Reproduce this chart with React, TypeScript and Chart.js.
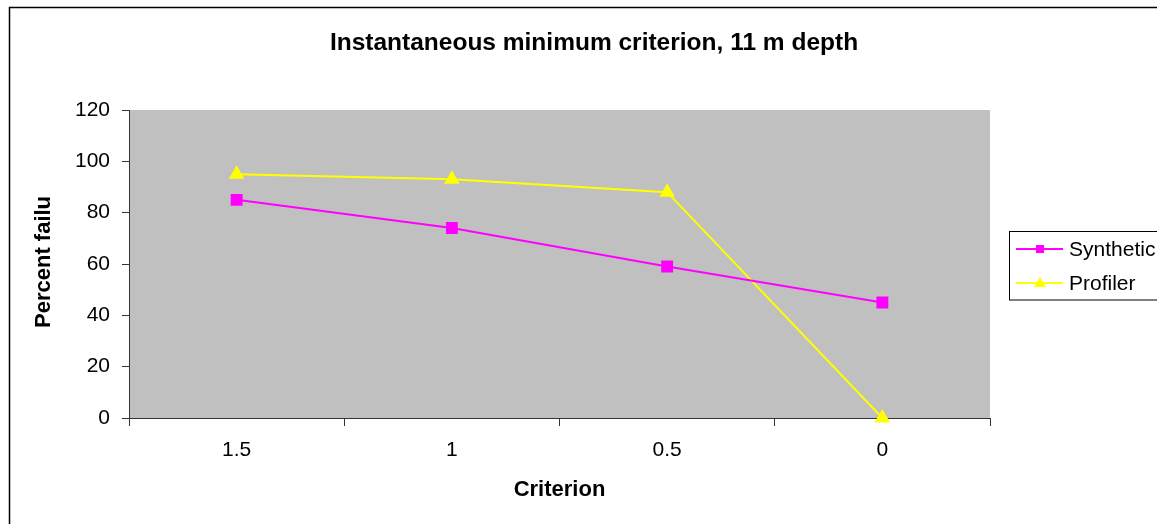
import React, { useEffect, useRef } from 'react';
import { Chart, registerables } from 'chart.js';

Chart.register(...registerables);

const categories = ['1.5', '1', '0.5', '0'];
const syntheticValues = [85, 74, 59, 45];
const profilerValues = [95, 93, 88, 0];
const seriesNames = ['Synthetic', 'Profiler'];
const seriesColors = ['#FF00FF', '#FFFF00'];
const yMin = 0;
const yMax = 120;
const yStep = 20;
const titleText = 'Instantaneous minimum criterion, 11 m depth';
const xTitleText = 'Criterion';
const yTitleText = 'Percent failure';

const W = 1200;
const H = 560;
const FONT = "'Liberation Sans', Arial, sans-serif";

const decorPlugin = {
  id: 'decor',
  beforeDraw(chart: any) {
    const { ctx, chartArea: a } = chart;
    ctx.save();
    ctx.fillStyle = '#FFFFFF';
    ctx.fillRect(0, 0, chart.width, chart.height);
    ctx.fillStyle = '#C0C0C0';
    ctx.fillRect(a.left, a.top, a.right - a.left, a.bottom - a.top);
    ctx.strokeStyle = '#000000';
    ctx.lineWidth = 1.5;
    ctx.strokeRect(9.5, 7.5, 1400, 900);
    ctx.restore();
  },
  afterDraw(chart: any) {
    const { ctx } = chart;
    // y-axis title, clipped like the original
    ctx.save();
    ctx.beginPath();
    ctx.rect(20, 197, 60, 260);
    ctx.clip();
    ctx.translate(44, 328);
    ctx.rotate(-Math.PI / 2);
    ctx.font = `bold 22px ${FONT}`;
    ctx.textAlign = 'left';
    ctx.textBaseline = 'middle';
    ctx.fillStyle = '#000000';
    ctx.fillText(yTitleText, 0, 0);
    ctx.restore();

    // legend
    ctx.save();
    ctx.fillStyle = '#FFFFFF';
    ctx.fillRect(1009.5, 231.5, 300, 68.5);
    ctx.strokeStyle = '#000000';
    ctx.lineWidth = 1;
    ctx.strokeRect(1009.5, 231.5, 300, 68.5);
    const rows = [249, 283];
    seriesNames.forEach((name, i) => {
      const y = rows[i];
      ctx.strokeStyle = seriesColors[i];
      ctx.lineWidth = 2;
      ctx.beginPath();
      ctx.moveTo(1016, y);
      ctx.lineTo(1063, y);
      ctx.stroke();
      ctx.fillStyle = seriesColors[i];
      if (i === 0) {
        ctx.fillRect(1036, y - 4, 8, 8);
      } else {
        ctx.beginPath();
        ctx.moveTo(1040, y - 6);
        ctx.lineTo(1046, y + 4);
        ctx.lineTo(1034, y + 4);
        ctx.closePath();
        ctx.fill();
      }
      ctx.fillStyle = '#000000';
      ctx.font = `21px ${FONT}`;
      ctx.textAlign = 'left';
      ctx.textBaseline = 'middle';
      ctx.fillText(name, 1069, y + 1);
    });
    ctx.restore();
  },
};

export default function App() {
  const ref = useRef<HTMLCanvasElement | null>(null);

  useEffect(() => {
    if (!ref.current) return;
    const tickFont = { family: FONT, size: 21 };
    const chart = new Chart(ref.current, {
      type: 'line',
      data: {
        labels: categories,
        datasets: [
          {
            label: seriesNames[0],
            data: syntheticValues,
            borderColor: seriesColors[0],
            backgroundColor: seriesColors[0],
            pointBackgroundColor: seriesColors[0],
            pointBorderColor: seriesColors[0],
            pointStyle: 'rect',
            pointRadius: 7,
            borderWidth: 2,
            tension: 0,
            clip: false,
          },
          {
            label: seriesNames[1],
            data: profilerValues,
            borderColor: seriesColors[1],
            backgroundColor: seriesColors[1],
            pointBackgroundColor: seriesColors[1],
            pointBorderColor: seriesColors[1],
            pointStyle: 'triangle',
            pointRadius: 7,
            borderWidth: 2,
            tension: 0,
            clip: false,
          },
        ],
      },
      options: {
        responsive: false,
        animation: false,
        events: [],
        layout: { padding: { left: 10, right: 22, top: 0, bottom: 40 } },
        plugins: {
          legend: { display: false },
          tooltip: { enabled: false },
          title: {
            display: true,
            text: titleText,
            color: '#000000',
            font: { family: FONT, size: 24.5, weight: 'bold' },
            padding: { top: 29, bottom: 51.6 },
          },
        },
        scales: {
          x: {
            type: 'category',
            offset: true,
            grid: {
              offset: true,
              drawOnChartArea: false,
              drawTicks: true,
              tickLength: 8,
              color: '#333333',
            },
            border: { color: '#333333', width: 1 },
            ticks: { font: tickFont, color: '#000000', padding: 12, maxRotation: 0 },
            title: {
              display: true,
              text: xTitleText,
              color: '#000000',
              font: { family: FONT, size: 22, weight: 'bold' },
              padding: { top: 0, bottom: 17 },
            },
            afterFit: (s: any) => {
              s.height = 102;
            },
          },
          y: {
            min: yMin,
            max: yMax,
            ticks: { stepSize: yStep, font: tickFont, color: '#000000', padding: 12 },
            grid: { drawOnChartArea: false, drawTicks: true, tickLength: 7, color: '#333333' },
            border: { color: '#333333', width: 1 },
            afterFit: (s: any) => {
              s.width = 119;
            },
          },
          y2: {
            position: 'right',
            display: true,
            grid: { display: false },
            border: { display: false },
            ticks: { display: false },
            afterFit: (s: any) => {
              s.width = 188;
            },
          },
        },
      },
      plugins: [decorPlugin],
    } as any);
    return () => chart.destroy();
  }, []);

  return (
    <div
      style={{
        position: 'fixed',
        left: 0,
        top: 0,
        width: '100vw',
        height: '100vh',
        overflow: 'hidden',
        background: '#FFFFFF',
      }}
    >
      <canvas
        ref={ref}
        width={W}
        height={H}
        style={{ position: 'absolute', left: 0, top: 0, width: W, height: H }}
      />
    </div>
  );
}
